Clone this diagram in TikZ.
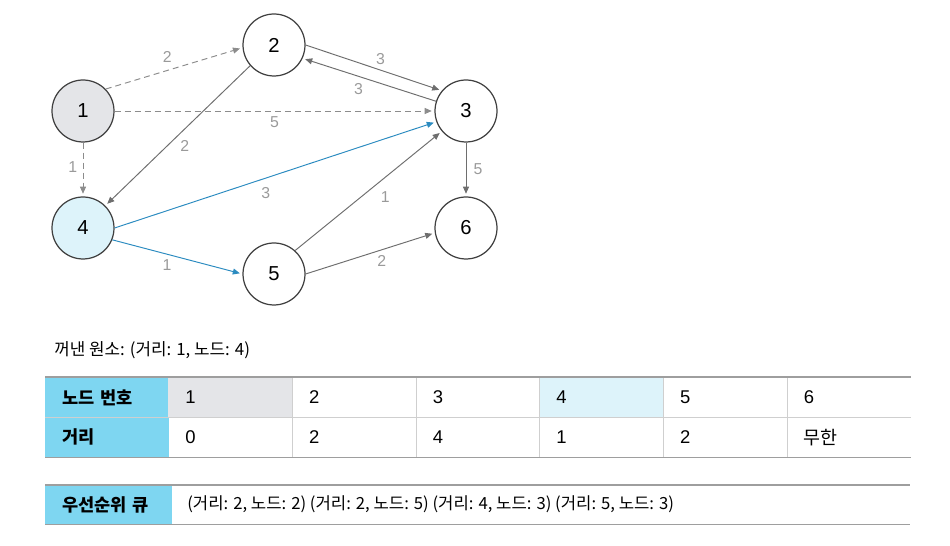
\documentclass[tikz,border=0pt]{standalone}
\usepackage{fontspec}
\setmainfont{Liberation Sans}
\newfontfamily\kr{Noto Sans CJK KR}
\usetikzlibrary{arrows.meta}
\definecolor{edgeGrey}{HTML}{6E6E6E}
\definecolor{dashGrey}{HTML}{8C8C8C}
\definecolor{labelGrey}{HTML}{9A9A9A}
\definecolor{pathBlue}{HTML}{2B8BC0}
\definecolor{startGrey}{HTML}{E4E5E8}
\definecolor{popBlue}{HTML}{DDF3FA}
\definecolor{headBlue}{HTML}{7ED6F1}
\definecolor{ruleGrey}{HTML}{9E9E9E}
\definecolor{cellGrey}{HTML}{CFCFCF}

\begin{document}
\begin{tikzpicture}[x=0.02cm, y=-0.02cm,
  vertex/.style={circle, draw=black!75, line width=0.7pt, minimum size=1.24cm, inner sep=0pt, font=\fontsize{11.5}{13}\selectfont},
  edge/.style={draw=edgeGrey, line width=0.55pt, -{Triangle[length=4pt, width=3.4pt]}, shorten >=1.5pt},
  tentative/.style={edge, draw=dashGrey, dash pattern=on 3.4pt off 2.3pt},
  chosen/.style={edge, draw=pathBlue},
  wlabel/.style={font=\fontsize{9}{11}\selectfont, text=labelGrey, inner sep=2pt},
  cell/.style={anchor=north west, minimum height=0.8cm, inner xsep=0.34cm, inner ysep=0pt, text width=1.794cm, align=left, font=\fontsize{10.5}{12}\selectfont},
  headcell/.style={cell, fill=headBlue, font=\kr\bfseries\fontsize{10}{12}\selectfont},
  rule/.style={draw=ruleGrey, line width=0.8pt},
  thinrule/.style={draw=cellGrey, line width=0.6pt}]
  \useasboundingbox (0,0) rectangle (950,546);
  % graph
  \node[vertex, fill=startGrey] (n1) at (83,111) {1};
  \node[vertex] (n2) at (274,45) {2};
  \node[vertex] (n3) at (466,111) {3};
  \node[vertex, fill=popBlue] (n4) at (83,228) {4};
  \node[vertex] (n5) at (274,274) {5};
  \node[vertex] (n6) at (466,228) {6};
  \draw[tentative] (n1.44) -- (n2.185) node[wlabel, pos=0.45, above=2pt] {2};
  \draw[tentative] (n1.east) -- (n3.west) node[wlabel, pos=0.5, below=1pt] {5};
  \draw[tentative] (n1.south) -- (n4.north) node[wlabel, pos=0.45, left=1pt] {1};
  \draw[edge] (n2.east) -- (n3.140) node[wlabel, pos=0.55, above=1pt] {3};
  \draw[edge] (n3.162) -- (n2.-25) node[wlabel, pos=0.58, below=2pt] {3};
  \draw[edge] (n2.221) -- (n4.45) node[wlabel, pos=0.57, right=5pt] {2};
  \draw[chosen] (n4.east) -- (n3.200) node[wlabel, pos=0.47, below=3pt] {3};
  \draw[chosen] (n4.-22) -- (n5.west) node[wlabel, pos=0.42, below=1pt] {1};
  \draw[edge] (n5.48) -- (n3.220) node[wlabel, pos=0.45, right=9pt] {1};
  \draw[edge] (n5.east) -- (n6.189) node[wlabel, pos=0.59, below=1pt] {2};
  \draw[edge] (n3.south) -- (n6.north) node[wlabel, pos=0.5, right=2pt] {5};
  % popped element
  \node[anchor=west, inner sep=0pt, font=\kr\fontsize{9.6}{12}\selectfont] (popped) at (54,350) {꺼낸 원소: (거리: 1, 노드: 4)};
  % distance table
  \node[headcell] (hNode) at (45,377) {노드 번호};
  \node[headcell] (hDist) at (45,417) {거리};
  \foreach \v/\c [count=\i] in {1/startGrey, 2/white, 3/white, 4/popBlue, 5/white, 6/white}
    \node[cell, fill=\c] (a\i) at ({168+(\i-1)*123.7},377) {\v};
  \foreach \v [count=\i] in {0, 2, 4, 1, 2, {\kr 무한}}
    \node[cell] (b\i) at ({168+(\i-1)*123.7},417) {\v};
  \foreach \i in {1,...,5}
    \draw[thinrule] (a\i.north east) -- (b\i.south east);
  \draw[thinrule] (hNode.south west) -- (a6.south east);
  \draw[rule] (hNode.north west) -- (a6.north east);
  \draw[rule] (hDist.south west) -- (b6.south east);
  % priority queue
  \node[headcell, minimum height=0.78cm, text width=1.854cm] (hQueue) at (45,485) {우선순위 큐};
  \node[anchor=west, inner sep=0pt, font=\kr\fontsize{9.5}{12}\selectfont] (queue) at (187,504.5) {(거리: 2, 노드: 2) (거리: 2, 노드: 5) (거리: 4, 노드: 3) (거리: 5, 노드: 3)};
  \coordinate (qEnd) at (910,485);
  \draw[rule] (hQueue.north west) -- (qEnd);
  \draw[rule] (hQueue.south west) -- (qEnd |- hQueue.south);
\end{tikzpicture}
\end{document}
